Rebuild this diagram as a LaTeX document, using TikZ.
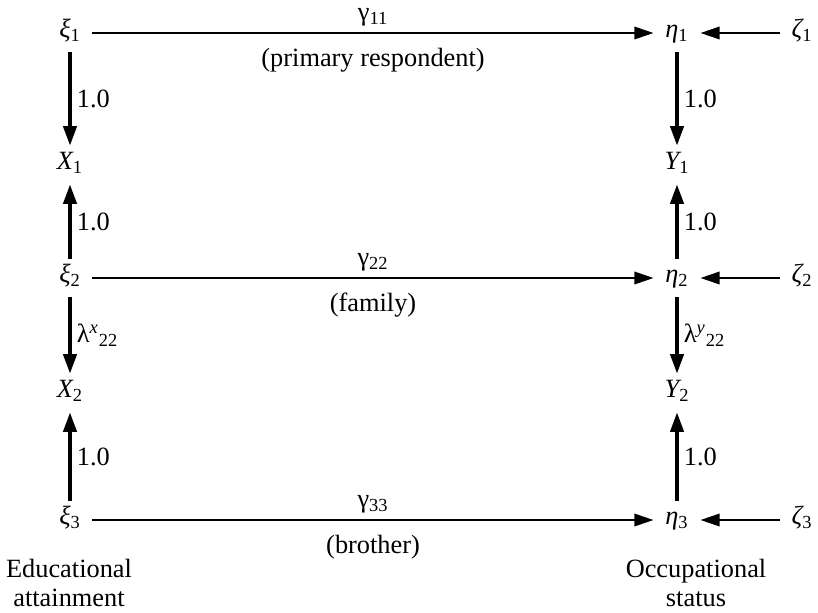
\documentclass[tikz,border=0pt]{standalone}
\usepackage{fontspec}
\setmainfont{Liberation Serif}
\usetikzlibrary{arrows.meta}
\newcommand{\lsub}[1]{\textsubscript{\upshape #1}}
\begin{document}
\begin{tikzpicture}[x=0.02cm,y=-0.02cm,
  every node/.style={font=\fontsize{15}{17}\selectfont},
  var/.style={inner sep=6.5pt, text height=1.5ex, text depth=0.4ex},
  lbl/.style={inner sep=3pt},
  path/.style={line width=1.5pt, -{Triangle[length=11pt,width=7pt]}},
  load/.style={line width=1.9pt, -{Triangle[length=11pt,width=7.5pt]}}]
\useasboundingbox (0,0) rectangle (818,612);

% latent and observed variables
\node[var] (xi1)  at (70,33)  {\itshape ξ\lsub{1}};
\node[var] (X1)   at (70,165) {\itshape X\lsub{1}};
\node[var] (xi2)  at (70,278) {\itshape ξ\lsub{2}};
\node[var] (X2)   at (70,393) {\itshape X\lsub{2}};
\node[var] (xi3)  at (70,520) {\itshape ξ\lsub{3}};

\node[var] (eta1) at (677,33)  {\itshape η\lsub{1}};
\node[var] (Y1)   at (677,165) {\itshape Y\lsub{1}};
\node[var] (eta2) at (677,278) {\itshape η\lsub{2}};
\node[var] (Y2)   at (677,393) {\itshape Y\lsub{2}};
\node[var] (eta3) at (677,520) {\itshape η\lsub{3}};

\node[var] (zeta1) at (802,33)  {\itshape ζ\lsub{1}};
\node[var] (zeta2) at (802,278) {\itshape ζ\lsub{2}};
\node[var] (zeta3) at (802,520) {\itshape ζ\lsub{3}};

% structural paths
\draw[path] (xi1) -- node[lbl,above=0pt] {γ\lsub{11}} node[lbl,below=5pt] {(primary respondent)} (eta1);
\draw[path] (xi2) -- node[lbl,above=0pt] {γ\lsub{22}} node[lbl,below=5pt] {(family)} (eta2);
\draw[path] (xi3) -- node[lbl,above=0pt] {γ\lsub{33}} node[lbl,below=5pt] {(brother)} (eta3);

% disturbances
\draw[path] (zeta1) -- (eta1);
\draw[path] (zeta2) -- (eta2);
\draw[path] (zeta3) -- (eta3);

% measurement loadings
\draw[load] (xi1) -- node[lbl,right] {1.0} (X1);
\draw[load] (xi2) -- node[lbl,right] {1.0} (X1);
\draw[load] (xi2) -- node[lbl,right] {λ\textsuperscript{\itshape x}\lsub{22}} (X2);
\draw[load] (xi3) -- node[lbl,right] {1.0} (X2);

\draw[load] (eta1) -- node[lbl,right] {1.0} (Y1);
\draw[load] (eta2) -- node[lbl,right] {1.0} (Y1);
\draw[load] (eta2) -- node[lbl,right] {λ\textsuperscript{\itshape y}\lsub{22}} (Y2);
\draw[load] (eta3) -- node[lbl,right] {1.0} (Y2);

% construct names
\node[align=center, font=\fontsize{15}{16.5}\selectfont] (edu) at (69,583) {Educational\\attainment};
\node[align=center, font=\fontsize{15}{16.5}\selectfont] (occ) at (696,583) {Occupational\\status};
\end{tikzpicture}
\end{document}
